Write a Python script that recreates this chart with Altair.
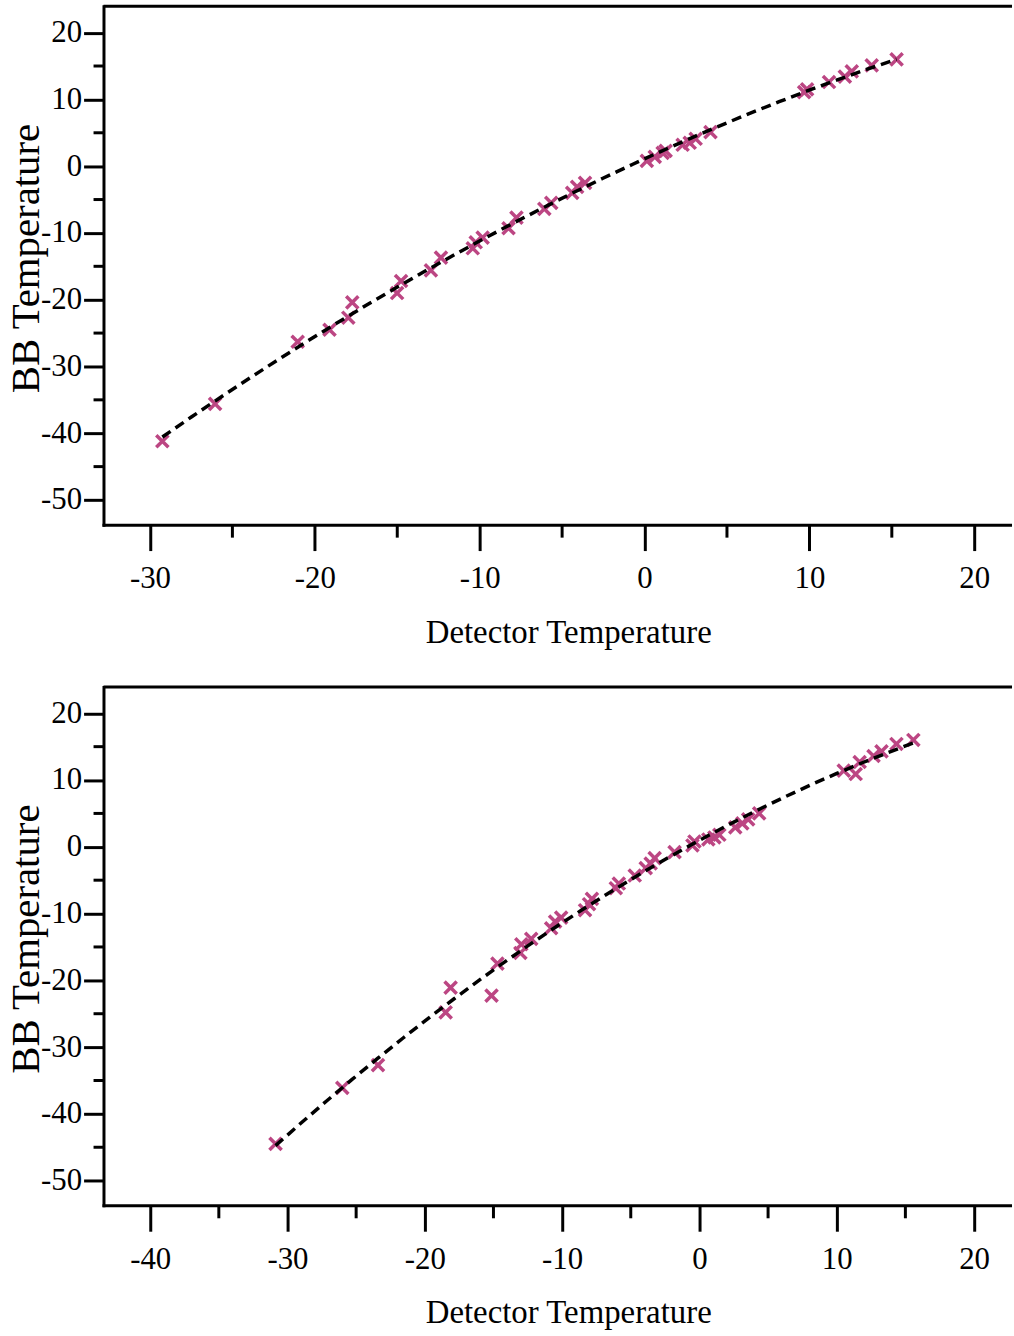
import altair as alt
import pandas as pd

# ---- data ----
top_x = [-29.25, -26.05, -21.04, -19.11, -17.97, -17.73, -15.01, -14.77, -12.96, -12.35,
         -10.42, -10.24, -9.82, -8.25, -7.77, -6.08, -5.66, -4.39, -4.09, -3.61,
         0.14, 0.62, 1.10, 1.28, 2.31, 2.74, 3.10, 4.00, 9.68, 9.86,
         11.19, 12.15, 12.57, 13.78, 15.29]
top_y = [-41.2, -35.6, -26.3, -24.5, -22.7, -20.4, -19.0, -17.2, -15.6, -13.7,
         -12.3, -11.4, -10.7, -9.3, -7.7, -6.4, -5.5, -4.0, -3.1, -2.5,
         0.8, 1.4, 2.0, 2.3, 3.2, 3.5, 4.1, 5.1, 11.1, 11.5,
         12.6, 13.4, 14.2, 15.1, 16.0]

bot_x = [-30.87, -26.01, -23.41, -18.48, -18.12, -15.14, -14.71, -13.04, -12.97, -12.25,
         -10.80, -10.51, -10.07, -8.33, -8.04, -7.83, -6.09, -5.87, -4.71, -3.91,
         -3.55, -3.26, -1.81, -0.51, -0.36, 0.65, 1.09, 1.45, 2.61, 3.12,
         3.55, 4.35, 10.51, 11.38, 11.67, 12.68, 13.26, 14.35, 15.58]
bot_y = [-44.5, -36.1, -32.7, -24.8, -21.1, -22.3, -17.5, -15.9, -14.6, -13.8,
         -12.2, -11.2, -10.6, -9.5, -8.6, -7.8, -6.2, -5.5, -4.3, -3.2,
         -2.5, -1.7, -0.8, 0.2, 0.8, 1.1, 1.4, 1.8, 2.9, 3.5,
         4.1, 5.0, 11.4, 10.9, 12.7, 13.6, 14.3, 15.4, 16.0]

y_ticks = [-50, -40, -30, -20, -10, 0, 10, 20]
y_minor = [-45, -35, -25, -15, -5, 5, 15]
top_x_ticks = [-30, -20, -10, 0, 10, 20]
top_x_minor = [-25, -15, -5, 5, 15]
bot_x_ticks = [-40, -30, -20, -10, 0, 10, 20]
bot_x_minor = [-35, -25, -15, -5, 5, 15]

x_title = "Detector Temperature"
y_title = "BB Temperature"

# ---- styling ----
W, H = 911, 521
FONT = "Liberation Serif"
PINK = "#BC4683"
XSHAPE = "M-1,-1L1,1M-1,1L1,-1"
y_domain = [-53.7, 23.95]


def panel(xs, ys, xdom, xticks, xminor):
    df = pd.DataFrame({"x": xs, "y": ys})
    xsc = alt.Scale(domain=xdom, nice=False, zero=False)
    ysc = alt.Scale(domain=y_domain, nice=False, zero=False)
    xaxis = alt.Axis(
        values=xticks, tickSize=26, tickWidth=3, tickColor="black",
        domainWidth=3, domainColor="black", domainCap="square",
        labelFont=FONT, labelFontSize=31, labelColor="black", labelPadding=13,
        labelExpr="'' + datum.value", grid=False,
        title=x_title, titleFont=FONT, titleFontSize=33, titleFontWeight="normal",
        titleColor="black", titleX=467, titleY=118, titleAlign="center",
        titleBaseline="alphabetic",
    )
    yaxis = alt.Axis(
        values=y_ticks, tickSize=20, tickWidth=3, tickColor="black",
        domainWidth=3, domainColor="black", domainCap="square",
        labelFont=FONT, labelFontSize=31, labelColor="black", labelPadding=2,
        labelExpr="'' + datum.value", grid=False,
        title=y_title, titleFont=FONT, titleFontSize=41, titleFontWeight="normal",
        titleColor="black", titleX=-65, titleY=253, titleAlign="center",
        titleBaseline="alphabetic", titleAngle=270,
    )
    pts = alt.Chart(df).mark_point(
        shape=XSHAPE, filled=False, strokeWidth=3.5, size=150, color=PINK, opacity=1
    ).encode(
        x=alt.X("x:Q", scale=xsc, axis=xaxis, title=x_title),
        y=alt.Y("y:Q", scale=ysc, axis=yaxis, title=y_title),
    )
    fit = alt.Chart(df).transform_regression(
        "x", "y", method="poly", order=2
    ).mark_line(color="black", strokeDash=[10, 6], strokeWidth=3.5).encode(
        x=alt.X("x:Q", scale=xsc, title=x_title),
        y=alt.Y("y:Q", scale=ysc, title=y_title),
    )
    ymin = alt.Chart(pd.DataFrame({"v": y_minor})).mark_rule(
        color="black", strokeWidth=3
    ).encode(
        y=alt.Y("v:Q", scale=ysc, title=y_title),
        x=alt.value(-10), x2=alt.value(0),
    )
    xmin = alt.Chart(pd.DataFrame({"v": xminor})).mark_rule(
        color="black", strokeWidth=3
    ).encode(
        x=alt.X("v:Q", scale=xsc, title=x_title),
        y=alt.value(H), y2=alt.value(H + 13),
    )
    border = alt.Chart(pd.DataFrame({"a": [0]})).mark_rule(
        color="black", strokeWidth=3
    ).encode(x=alt.value(0), x2=alt.value(W + 2), y=alt.value(0))
    return alt.layer(pts, fit, ymin, xmin, border).properties(width=W, height=H)


top = panel(top_x, top_y, [-32.82, 22.17], top_x_ticks, top_x_minor)
bot = panel(bot_x, bot_y, [-43.40, 22.62], bot_x_ticks, bot_x_minor)

chart = alt.vconcat(top, bot, spacing=163, bounds="flush").properties(
    padding={"left": 6, "top": 1, "right": 0, "bottom": 0},
    background="white",
).configure_view(stroke=None)

chart.save("out.html", embed_options={"renderer": "svg", "actions": False})
